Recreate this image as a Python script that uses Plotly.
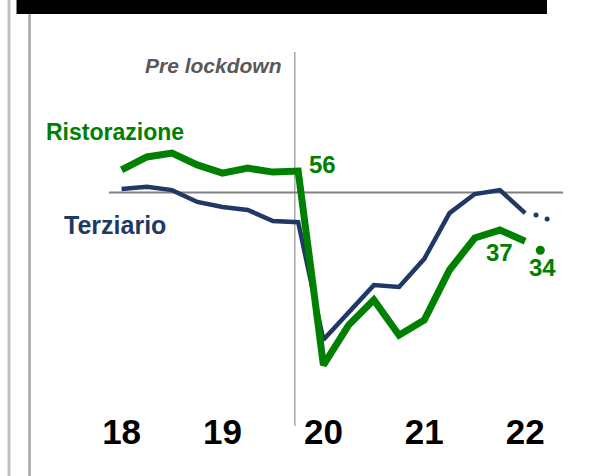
import plotly.graph_objects as go

# ---- data ----
quarters = list(range(17))            # Q1-2018 ... Q1-2022
year_ticks = [0, 4, 8, 12, 16]
year_labels = ["18", "19", "20", "21", "22"]

ristorazione = [56.3, 59.9, 61.0, 57.7, 55.4, 56.8, 55.7, 56.0, 2.1, 13.2,
                20.2, 10.4, 14.6, 28.5, 37.4, 39.6, 36.5]
terziario = [51.0, 51.6, 50.7, 47.4, 46.0, 45.2, 42.1, 41.8, 9.1, 16.7,
             24.3, 23.8, 31.6, 44.3, 49.6, 50.7, 44.3]

# latest (partial) readings
rist_last_x = [16.6]
rist_last_y = [34.0]
terz_last_x = [16.43, 16.87]
terz_last_y = [43.8, 42.7]

threshold = 50
lockdown_x = 6.87

GREEN = "#008000"
NAVY = "#1F3864"

fig = go.Figure()
fig.add_trace(go.Scatter(x=quarters, y=terziario, mode="lines",
                         line=dict(color=NAVY, width=4.5), hoverinfo="skip"))
fig.add_trace(go.Scatter(x=terz_last_x, y=terz_last_y, mode="markers",
                         marker=dict(color=NAVY, size=5), hoverinfo="skip"))
fig.add_trace(go.Scatter(x=quarters, y=ristorazione, mode="lines",
                         line=dict(color=GREEN, width=7), hoverinfo="skip"))
fig.add_trace(go.Scatter(x=rist_last_x, y=rist_last_y, mode="markers",
                         marker=dict(color=GREEN, size=9), hoverinfo="skip"))

shapes = [
    # threshold line
    dict(type="line", xref="paper", x0=0, x1=1, yref="y", y0=threshold, y1=threshold,
         line=dict(color="#808080", width=2), layer="below"),
    # pre-lockdown line
    dict(type="line", xref="x", x0=lockdown_x, x1=lockdown_x, yref="paper", y0=-0.0506, y1=1,
         line=dict(color="#7F7F7F", width=1), layer="below"),
    # black header bar
    dict(type="rect", xref="paper", x0=-0.2037, x1=0.9647, yref="paper", y0=1.1067, y1=1.16,
         fillcolor="black", line=dict(width=0)),
    # left double gray rules
    dict(type="line", xref="paper", x0=-0.2202, x1=-0.2202, yref="paper", y0=-0.2, y1=1.16,
         line=dict(color="#BFBFBF", width=3)),
    dict(type="line", xref="paper", x0=-0.1750, x1=-0.1750, yref="paper", y0=-0.2, y1=1.107,
         line=dict(color="#A6A6A6", width=2.5)),
]

FONT = "Liberation Sans, Arial, sans-serif"
annotations = [
    dict(text="<i><b>Pre lockdown</b></i>", x=6.43, y=85.4, xref="x", yref="y",
         xanchor="right", yanchor="middle", showarrow=False,
         font=dict(family=FONT, size=21, color="#595959")),
    dict(text="<b>Ristorazione</b>", x=-0.144, y=66.8, xref="paper", yref="y",
         xanchor="left", yanchor="middle", showarrow=False,
         font=dict(family=FONT, size=23, color=GREEN)),
    dict(text="<b>Terziario</b>", x=-0.1045, y=41.0, xref="paper", yref="y",
         xanchor="left", yanchor="middle", showarrow=False,
         font=dict(family=FONT, size=25, color=NAVY)),
    dict(text="<b>56</b>", x=7.34, y=57.7, xref="x", yref="y",
         xanchor="left", yanchor="middle", showarrow=False,
         font=dict(family=FONT, size=24, color=GREEN)),
    dict(text="<b>37</b>", x=15.0, y=33.5, xref="x", yref="y",
         xanchor="center", yanchor="middle", showarrow=False,
         font=dict(family=FONT, size=24, color=GREEN)),
    dict(text="<b>34</b>", x=16.7, y=29.1, xref="x", yref="y",
         xanchor="center", yanchor="middle", showarrow=False,
         font=dict(family=FONT, size=24, color=GREEN)),
]

fig.update_layout(
    width=598, height=476,
    margin=dict(l=109.4, r=35, t=52, b=68),
    paper_bgcolor="white", plot_bgcolor="white",
    showlegend=False,
    shapes=shapes, annotations=annotations,
    xaxis=dict(range=[-0.5, 17.5], tickvals=year_ticks, ticktext=year_labels,
               showgrid=False, zeroline=False, showline=False, ticks="",
               tickfont=dict(family="Liberation Sans, Arial, sans-serif",
                             size=35, color="black", weight="bold"),
               fixedrange=True),
    yaxis=dict(range=[-9.83, 89.06], showgrid=False, zeroline=False,
               showline=False, showticklabels=False, ticks="", fixedrange=True),
)

fig.write_html("out.html", config={"displayModeBar": False},
               post_script="document.body.style.margin='0';document.body.style.overflow='hidden';")
